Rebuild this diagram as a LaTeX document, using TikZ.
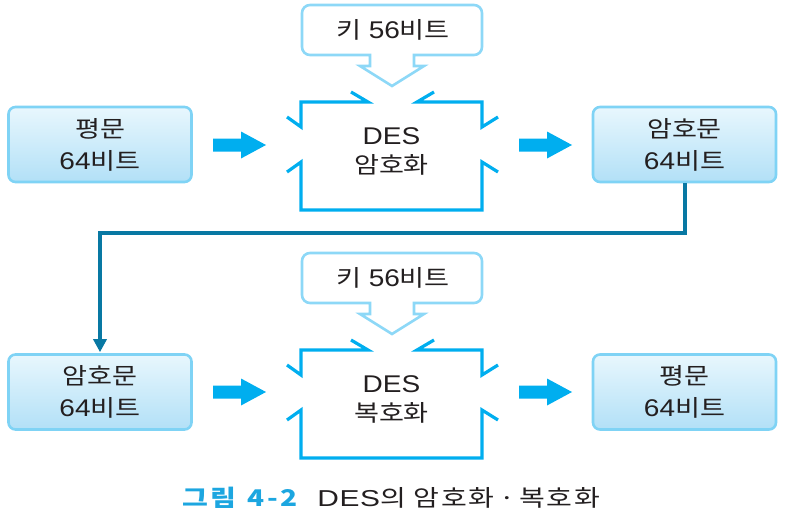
\documentclass[tikz,border=0pt]{standalone}
\usepackage{fontspec}
\setmainfont{Liberation Sans}[FakeStretch=1.16, Scale=1.05]
\newfontfamily\cjk{Noto Sans CJK KR}[FakeStretch=1.18]
\newfontfamily\capcjk{Noto Sans CJK KR}[FakeStretch=1.22, LetterSpace=7]
\newfontfamily\caplat{Liberation Sans}[FakeStretch=1.3, LetterSpace=3]
\usetikzlibrary{arrows.meta}
\definecolor{frameblue}{HTML}{00AEEF}
\definecolor{boxline}{HTML}{7FD3F5}
\definecolor{boxtop}{HTML}{E8F7FD}
\definecolor{boxbot}{HTML}{B2E0F7}
\definecolor{keyline}{HTML}{8DD8F7}
\definecolor{connc}{HTML}{0878A3}
\definecolor{textc}{HTML}{231F20}
\definecolor{capblue}{HTML}{1CA6E0}
\newcommand\K[1]{{\cjk #1}}
\tikzset{
  databox/.style={draw=boxline, line width=2.6pt, rounded corners=7pt,
    top color=boxtop, bottom color=boxbot, minimum width=183pt, minimum height=75pt,
    align=center, inner sep=0pt, text=textc, font=\fontsize{23}{32}\selectfont},
  destext/.style={align=center, inner sep=0pt, text=textc, font=\fontsize{23}{29}\selectfont},
  keytext/.style={inner sep=0pt, text=textc, font=\fontsize{23}{28}\selectfont},
  keyshape/.style={draw=keyline, line width=2.6pt, fill=white, line join=miter},
  desframe/.style={draw=frameblue, line width=3.2pt, line join=miter},
  fatarrow/.style={fill=frameblue, draw=none},
  conn/.style={draw=connc, line width=4pt, -{Triangle[length=13pt,width=13pt]}, shorten >=1pt}
}
\begin{document}
\begin{tikzpicture}[x=1pt,y=-1pt]
\useasboundingbox (0,0) rectangle (786,516);

% data boxes
\node[databox] (p1) at (100,144.5) {\K{평문}\\64\K{비트}};
\node[databox] (c1) at (684.5,144.5) {\K{암호문}\\64\K{비트}};
\node[databox] (c2) at (100,392) {\K{암호문}\\64\K{비트}};
\node[databox] (p2) at (684.5,392) {\K{평문}\\64\K{비트}};

% key callouts and DES frames
\foreach \dy/\kname/\dname/\dtxt in {0/k1/d1/\K{암호화}, 248/k2/d2/\K{복호화}} {
  \begin{scope}[shift={(0,\dy)}]
    \draw[keyshape] (370,55) [rounded corners=8pt] -- (302,55) -- (302,5) -- (482,5) -- (482,55) [sharp corners] -- (414,55) -- (414,66) -- (424,66) -- (392,86) -- (360,66) -- (370,66) -- cycle;
    \node[keytext] (\kname) at (393,30) {\K{키} 56\K{비트}};
    \draw[desframe] (351,92) -- (368,102) -- (301,102) -- (301,127) -- (287,117);
    \draw[desframe] (434,92) -- (417,102) -- (482,102) -- (482,127) -- (498,117);
    \draw[desframe] (287,172) -- (301,162) -- (301,210) -- (482,210) -- (482,162) -- (498,172);
    \node[destext] (\dname) at (391.5,151) {DES\\\dtxt};
  \end{scope}
}

% fat arrows
\foreach \cy in {145,392} {
  \fill[fatarrow] (213,\cy-6.5) -- (241,\cy-6.5) -- (241,\cy-13.5) -- (266,\cy) -- (241,\cy+13.5) -- (241,\cy+6.5) -- (213,\cy+6.5) -- cycle;
  \fill[fatarrow] (519,\cy-6.5) -- (547,\cy-6.5) -- (547,\cy-13.5) -- (572,\cy) -- (547,\cy+13.5) -- (547,\cy+6.5) -- (519,\cy+6.5) -- cycle;
}

% connector
\coordinate (mid) at (400,233);
\draw[conn] (c1.south) |- (mid) -| (c2.north);

% caption
\node[inner sep=0pt, font=\fontsize{23}{27}\selectfont, text=textc] (cap) at (391.5,498)
  {{\color{capblue}\capcjk\bfseries 그림\hspace{0.5em}4\hspace{0.12em}-\hspace{0.12em}2}\hspace{0.8em}{\caplat DES}{\capcjk 의 암호화\hspace{0.2em}·\hspace{0.2em}복호화}};
\end{tikzpicture}
\end{document}
